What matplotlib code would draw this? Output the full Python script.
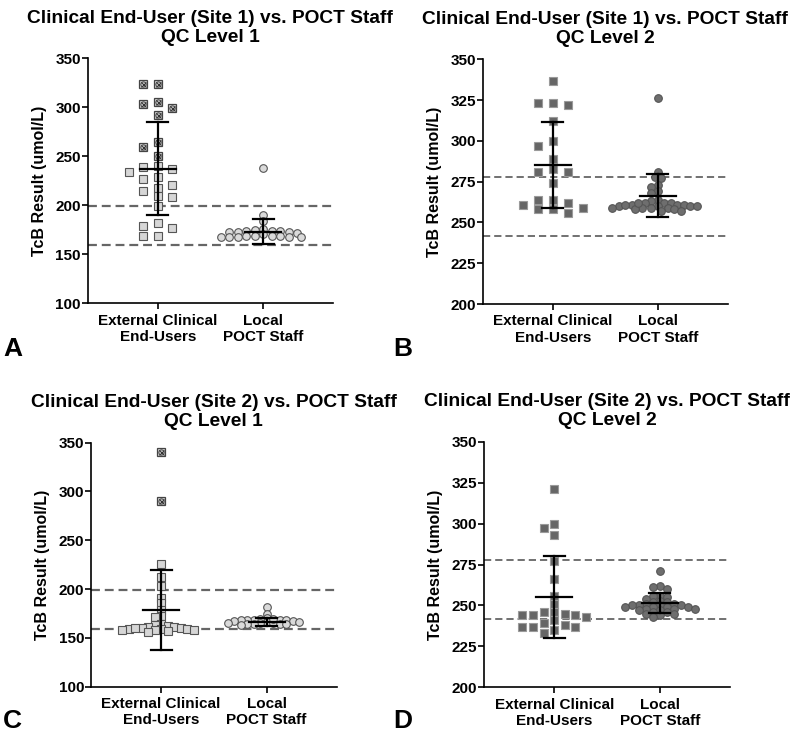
import numpy as np
import matplotlib
matplotlib.use("Agg")
import matplotlib.pyplot as plt

plt.rcParams['font.family'] = ['Liberation Sans', 'DejaVu Sans']

# ---- data ----
groups = ["External Clinical\nEnd-Users", "Local\nPOCT Staff"]

# panel A: site 1, QC level 1
a_ext_flag = [324, 324, 305, 303, 299, 292, 265, 259, 250]
a_ext = [240, 239, 237, 234, 229, 227, 221, 218, 215, 209.5, 208, 199.6,
         181.6, 179, 176.5, 169, 169]
a_local = [238, 190, 184, 176, 175, 174, 174, 173, 173, 173, 172, 174, 169,
           168, 169, 168, 169, 168, 169, 168, 168, 171]
a_mean = [237.5, 173.1]
a_sd = [47.4, 12.9]

# panel B: site 1, QC level 2
b_ext = [337, 323, 322, 323, 312, 300, 297, 289, 281, 281, 283, 274,
         264, 258, 261, 264, 258, 259, 262, 256]
b_local = [326, 281, 278, 277, 273, 272, 269, 268, 264, 263, 262, 262, 262,
           261, 261, 261, 260, 260, 260, 260, 259, 259, 259, 259, 258, 258,
           257, 257, 262, 261]
b_mean = [285.0, 266.5]
b_sd = [26.4, 13.0]

# panel C: site 2, QC level 1
c_ext_flag = [340, 290]
c_ext = [226, 212, 203, 191, 186, 179, 172, 171, 164, 163, 162, 161, 161,
         160, 160, 159, 159, 159, 158, 158, 157, 156, 160, 158]
c_local = [182, 175, 170, 169, 168, 168, 168, 168, 168, 167, 167, 166, 166,
           165, 165, 164, 164, 164, 164, 163, 169, 165]
c_mean = [178.6, 166.0]
c_sd = [41.0, 4.2]

# panel D: site 2, QC level 2
d_ext = [321, 300, 297, 293, 277, 266, 256, 251, 244, 246, 241, 244, 245,
         243, 244, 239, 246, 238, 235, 237, 237, 237, 233]
d_local = [271, 262, 261, 260, 256, 256, 255, 254, 253, 252, 252, 251, 251,
           250, 250, 250, 249, 249, 249, 248, 248, 248, 247, 247, 246, 246,
           245, 245, 244, 243, 250, 249]
d_mean = [255.0, 251.3]
d_sd = [25.0, 6.0]

lvl1_limits = [159, 199]
lvl2_limits = [242, 278]

lvl1_ticks = [100, 150, 200, 250, 300, 350]
lvl2_ticks = [200, 225, 250, 275, 300, 325, 350]


def swarm(ax, xc, vals, hs, vw, round_pts):
    # greedy beeswarm in pixel space; hs/vw = horizontal / vertical clearance
    vals = np.asarray(vals, dtype=float)
    pts = ax.transData.transform(np.column_stack([np.full(len(vals), xc), vals]))
    ys = pts[:, 1]
    x0 = pts[0, 0]
    order = np.argsort(-ys, kind='stable')
    step = hs / 2
    cands = [0.0]
    for m in range(1, 80):
        cands += [-m * step, m * step]
    placed = []
    xs = np.zeros(len(vals))
    for i in order:
        for c in cands:
            ok = True
            for px, py in placed:
                dx = abs(c - px)
                dy = abs(ys[i] - py)
                if round_pts:
                    hit = (dx / hs) ** 2 + (dy / vw) ** 2 < 1
                else:
                    hit = dx < hs - 0.01 and dy < vw
                if hit:
                    ok = False
                    break
            if ok:
                break
        placed.append((c, ys[i]))
        xs[i] = x0 + c
    back = ax.transData.inverted().transform(np.column_stack([xs, ys]))
    return back[:, 0]


def draw_panel(rect, title, ext, ext_flag, local, means, sds, limits, ticks,
               dark, sq_space, ci_space):
    ax = fig.add_axes(rect)
    ax.set_xlim(-0.665, 1.665)
    ax.set_ylim(ticks[0], ticks[-1])

    lw_d = 1.3 if dark else 1.6
    for lim in limits:
        ax.axhline(lim, color='#666666', lw=lw_d, ls=(0, (4, 2.2)), zorder=1)

    if dark:
        sq_face, sq_edge = '#666666', '#9a9a9a'
        ci_face, ci_edge = '#6e6e6e', '#555555'
        ms = 5.8
    else:
        sq_face, sq_edge = '#d6d6d6', '#555555'
        ci_face, ci_edge = '#dadada', '#555555'
        ms = 5.4

    all_ext = list(ext_flag) + list(ext)
    xs = swarm(ax, 0, all_ext, sq_space[0], sq_space[1], False)
    nf = len(ext_flag)
    ax.plot(xs[nf:], all_ext[nf:], 's', ms=ms, mfc=sq_face, mec=sq_edge, mew=0.8, zorder=3)
    if nf:
        ax.plot(xs[:nf], all_ext[:nf], 's', ms=ms, mfc='#cfcfcf', mec='#444444', mew=0.9, zorder=3)
        ax.plot(xs[:nf], all_ext[:nf], 'x', ms=3.6, mec='#333333', mew=0.7, zorder=4)
        ax.plot(xs[:nf], all_ext[:nf], 'o', ms=3.8, mfc='none', mec='#333333', mew=0.6, zorder=4)

    xl = swarm(ax, 1, local, ci_space[0], ci_space[1], True)
    ax.plot(xl, local, 'o', ms=5.5, mfc=ci_face, mec=ci_edge, mew=0.8, zorder=3)

    # mean +/- SD
    for i in range(2):
        m, s = means[i], sds[i]
        ax.plot([i, i], [m - s, m + s], color='black', lw=1.6, zorder=5)
        ax.plot([i - 0.17, i + 0.17], [m, m], color='black', lw=1.6, zorder=5)
        ax.plot([i - 0.1, i + 0.1], [m + s, m + s], color='black', lw=1.6, zorder=5)
        ax.plot([i - 0.1, i + 0.1], [m - s, m - s], color='black', lw=1.6, zorder=5)

    ax.spines['top'].set_visible(False)
    ax.spines['right'].set_visible(False)
    ax.spines['left'].set_linewidth(1.2)
    ax.spines['bottom'].set_linewidth(1.2)
    ax.set_yticks(ticks)
    ax.set_xticks([0, 1])
    ax.set_xticklabels(groups, fontsize=11, fontweight='bold')
    ax.tick_params(axis='both', length=4, width=1.2, labelsize=11)
    ax.tick_params(axis='y', pad=1)
    for lab in ax.get_yticklabels():
        lab.set_fontweight('bold')
    ax.set_ylabel("TcB Result (umol/L)", fontsize=11.5, fontweight='bold', labelpad=6)
    ax.set_title(title, fontsize=13.8, fontweight='bold', pad=12, linespacing=1.15)
    return ax


fig = plt.figure(figsize=(7.93, 7.34), dpi=100)

draw_panel([0.1106, 0.5868, 0.3094, 0.3338],
           "Clinical End-User (Site 1) vs. POCT Staff\nQC Level 1",
           a_ext, a_ext_flag, a_local, a_mean, a_sd, lvl1_limits, lvl1_ticks, False,
           (14.5, 8), (8.5, 4))
draw_panel([0.6087, 0.5858, 0.3093, 0.3334],
           "Clinical End-User (Site 1) vs. POCT Staff\nQC Level 2",
           b_ext, [], b_local, b_mean, b_sd, lvl2_limits, lvl2_ticks, True,
           (15, 8.5), (6.5, 5))
draw_panel([0.1148, 0.0644, 0.3098, 0.3325],
           "Clinical End-User (Site 2) vs. POCT Staff\nQC Level 1",
           c_ext, c_ext_flag, c_local, c_mean, c_sd, lvl1_limits, lvl1_ticks, False,
           (6.5, 4.5), (6.5, 3.5))
draw_panel([0.6103, 0.0636, 0.3103, 0.3346],
           "Clinical End-User (Site 2) vs. POCT Staff\nQC Level 2",
           d_ext, [], d_local, d_mean, d_sd, lvl2_limits, lvl2_ticks, True,
           (10.6, 7.5), (7, 4.5))

for letter, x, y in [("A", 3, 356), ("B", 393, 356), ("C", 3, 728), ("D", 393, 728)]:
    fig.text(x / 793, 1 - y / 734, letter, fontsize=19, fontweight='bold', va='baseline')

fig.savefig("out.png", dpi=100)
